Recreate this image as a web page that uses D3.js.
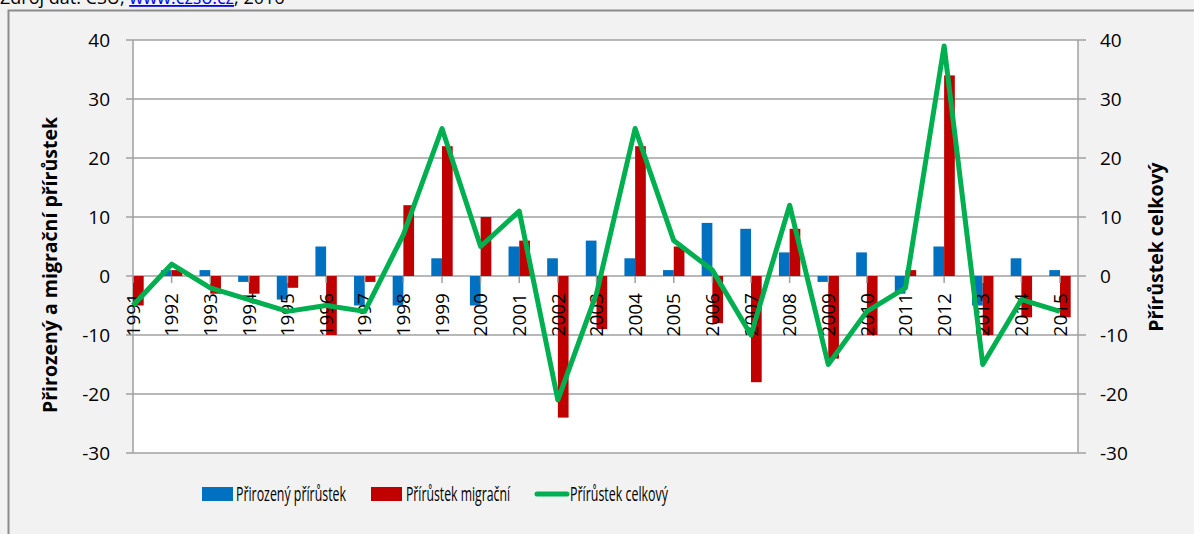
<!DOCTYPE html>
<html>
<head>
<meta charset="utf-8">
<script src="https://cdn.jsdelivr.net/npm/d3@7"></script>
<style>
  body { margin: 0; background: #f2f2f2; }
  svg { display: block; font-family: "Open Sans", "Noto Sans", sans-serif; }
</style>
</head>
<body>
<svg id="chart" width="1194" height="534"></svg>
<script>
// data
const years = ["1991","1992","1993","1994","1995","1996","1997","1998","1999","2000",
  "2001","2002","2003","2004","2005","2006","2007","2008","2009","2010",
  "2011","2012","2013","2014","2015"];
const prirozeny = [0, 1, 1, -1, -4, 5, -5, -5, 3, -5, 5, 3, 6, 3, 1, 9, 8, 4, -1, 4, -3, 5, -5, 3, 1];
const migracni = [-5, 1, -3, -3, -2, -10, -1, 12, 22, 10, 6, -24, -9, 22, 5, -8, -18, 8, -14, -10, 1, 34, -10, -7, -7];
const celkovy = [-5, 2, -2, -4, -6, -5, -6, 7, 25, 5, 11, -21, -3, 25, 6, 1, -10, 12, -15, -6, -2, 39, -15, -4, -6];
const yTicks = [-30, -20, -10, 0, 10, 20, 30, 40];
const seriesNames = ["Přirozený přírůstek", "Přírůstek migrační", "Přírůstek celkový"];

const BLUE = "#0070c0", RED = "#c00000", GREEN = "#00b050", GRID = "#a0a0a0";

const svg = d3.select("#chart");
const plot = { left: 133, right: 1078, top: 40, bottom: 453 };

// zdroj nahoře (v originále oříznutý)
const src = svg.append("text").attr("x", 0).attr("y", 4).attr("font-size", 18).attr("fill", "#000");
src.append("tspan").text("Zdroj dat: ČSÚ, ");
src.append("tspan").attr("fill", "#0000ff").attr("text-decoration", "underline").text("www.czso.cz");
src.append("tspan").text(", 2016");

// rámeček grafu
svg.append("path")
  .attr("d", "M8.5,534 V10.5 H1194")
  .attr("fill", "none").attr("stroke", "#8c8c8c").attr("stroke-width", 2);

svg.append("rect")
  .attr("x", plot.left).attr("y", plot.top)
  .attr("width", plot.right - plot.left).attr("height", plot.bottom - plot.top)
  .attr("fill", "#fff");

const x = d3.scalePoint().domain(years).range([133, 1060]);
const y = d3.scaleLinear().domain([-30, 40]).range([plot.bottom, plot.top]);

// mřížka
svg.append("g").selectAll("line").data(yTicks).join("line")
  .attr("x1", plot.left - 7).attr("x2", plot.right + 8)
  .attr("y1", d => y(d)).attr("y2", d => y(d))
  .attr("stroke", GRID).attr("stroke-width", 1.5);

// osy
svg.append("line").attr("x1", plot.left).attr("x2", plot.left)
  .attr("y1", plot.top).attr("y2", plot.bottom).attr("stroke", GRID).attr("stroke-width", 1.5);
svg.append("line").attr("x1", plot.right).attr("x2", plot.right)
  .attr("y1", plot.top).attr("y2", plot.bottom).attr("stroke", GRID).attr("stroke-width", 1.5);

// popisky os y
svg.append("g").selectAll("text").data(yTicks).join("text")
  .attr("x", 110).attr("y", d => y(d)).attr("dy", "0.35em")
  .attr("text-anchor", "end").attr("font-size", 19).text(d => d);
svg.append("g").selectAll("text").data(yTicks).join("text")
  .attr("x", 1100).attr("y", d => y(d)).attr("dy", "0.35em")
  .attr("text-anchor", "start").attr("font-size", 19).text(d => d);

// sloupce
const bw = 10.7;
svg.append("g").selectAll("rect").data(prirozeny).join("rect")
  .attr("x", (d, i) => x(years[i]) - bw)
  .attr("y", d => y(Math.max(0, d)))
  .attr("width", bw)
  .attr("height", d => Math.abs(y(d) - y(0)))
  .attr("fill", BLUE);
svg.append("g").selectAll("rect").data(migracni).join("rect")
  .attr("x", (d, i) => x(years[i]))
  .attr("y", d => y(Math.max(0, d)))
  .attr("width", bw)
  .attr("height", d => Math.abs(y(d) - y(0)))
  .attr("fill", RED);

// osa x - čárky a roky
svg.append("g").selectAll("line").data(years).join("line")
  .attr("x1", d => x(d)).attr("x2", d => x(d))
  .attr("y1", y(0)).attr("y2", y(0) + 7)
  .attr("stroke", GRID).attr("stroke-width", 1.5);
svg.append("g").selectAll("text").data(years).join("text")
  .attr("transform", d => `translate(${x(d)},${y(0) + 17}) rotate(-90)`)
  .attr("dy", "0.35em").attr("text-anchor", "end")
  .attr("font-size", 19).text(d => d);

// čára celkový
const line = d3.line().x((d, i) => x(years[i])).y(d => y(d));
svg.append("path").datum(celkovy)
  .attr("d", line).attr("fill", "none")
  .attr("stroke", GREEN).attr("stroke-width", 5).attr("stroke-linejoin", "round");

// názvy os
svg.append("text")
  .attr("transform", `translate(57,265) rotate(-90)`)
  .attr("text-anchor", "middle").attr("font-size", 19.5).attr("font-weight", "bold")
  .text("Přirozený a migrační přírůstek");
svg.append("text")
  .attr("transform", `translate(1163,247) rotate(-90)`)
  .attr("text-anchor", "middle").attr("font-size", 19.5).attr("font-weight", "bold")
  .text("Přírůstek celkový");

// legenda
const leg = svg.append("g");
leg.append("rect").attr("x", 202).attr("y", 487).attr("width", 31).attr("height", 14).attr("fill", BLUE);
leg.append("rect").attr("x", 371).attr("y", 487).attr("width", 31).attr("height", 14).attr("fill", RED);
leg.append("line").attr("x1", 537).attr("x2", 567).attr("y1", 494).attr("y2", 494)
  .attr("stroke", GREEN).attr("stroke-width", 5).attr("stroke-linecap", "round");
const legX = [236, 406, 570], legW = [110, 104, 98];
leg.selectAll("text").data(seriesNames).join("text")
  .attr("x", (d, i) => legX[i]).attr("y", 501)
  .attr("font-size", 20)
  .attr("textLength", (d, i) => legW[i]).attr("lengthAdjust", "spacingAndGlyphs")
  .text(d => d);
</script>
</body>
</html>
